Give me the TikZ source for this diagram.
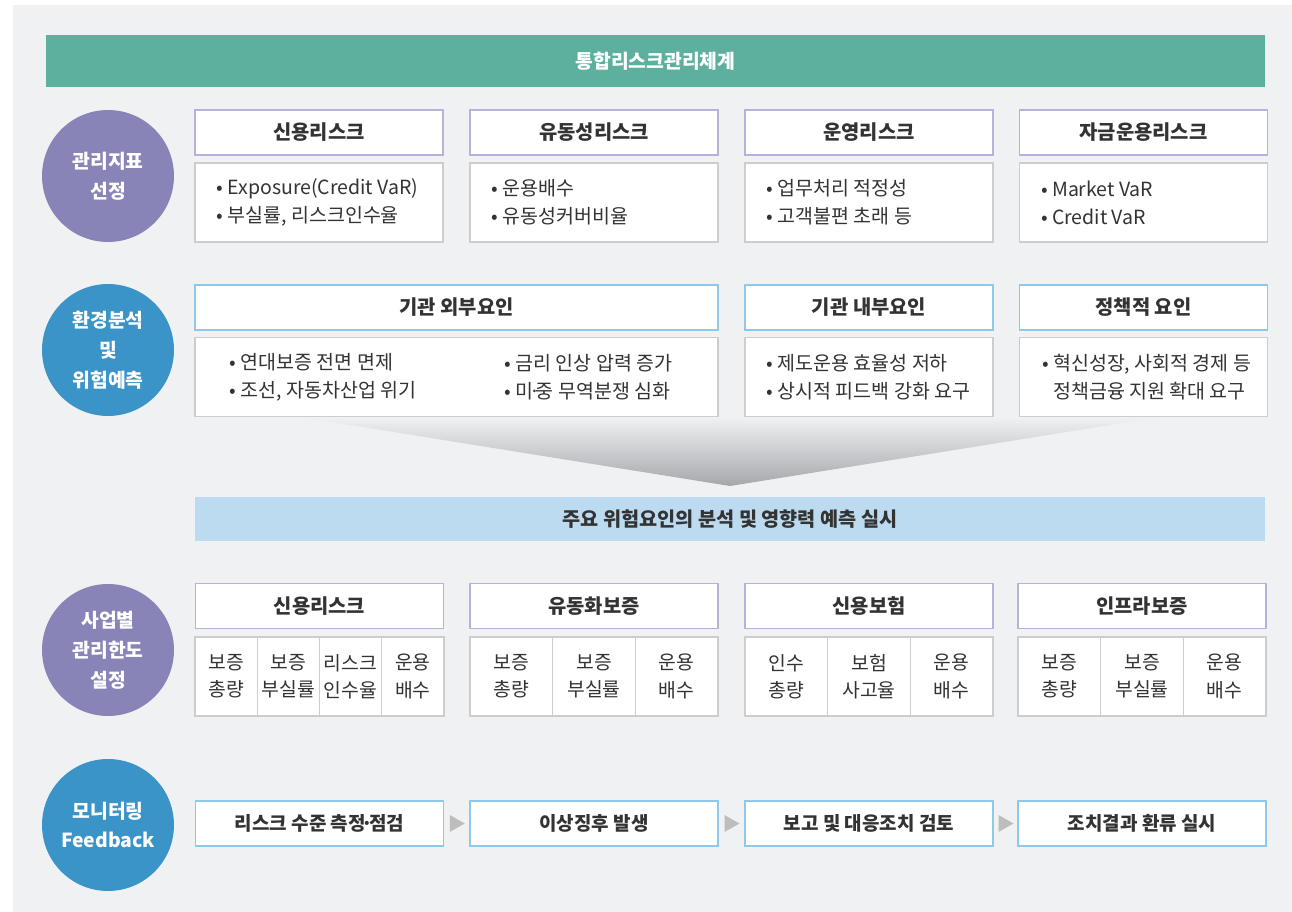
\documentclass[tikz,border=0pt]{standalone}
\usepackage{fontspec}
\setmainfont{Noto Sans CJK KR}
\usetikzlibrary{positioning,calc}

\definecolor{bggray}{HTML}{F0F1F3}
\definecolor{titlegreen}{HTML}{5EB09E}
\definecolor{circpurple}{HTML}{8884B7}
\definecolor{circblue}{HTML}{3B94C7}
\definecolor{lineviolet}{HTML}{B5B3D9}
\definecolor{lineblue}{HTML}{8EC9EC}
\definecolor{linegray}{HTML}{CDCDCD}
\definecolor{bandblue}{HTML}{BCDBF1}
\definecolor{txtgray}{HTML}{333333}
\definecolor{tipgray}{HTML}{BDBDBD}
\definecolor{funnelgray}{HTML}{A6A7AB}

\newcommand{\middot}{\kern-0.22em·\kern-0.22em}

\begin{document}
\begin{tikzpicture}[x=0.02cm, y=-0.02cm,
    every node/.style={text=txtgray},
    circ/.style={circle, minimum size=2.64cm, inner sep=0pt, align=center, text=white,
        font=\fontsize{11}{17}\selectfont\bfseries},
    hdr/.style={draw=lineviolet, line width=0.8pt, fill=white, minimum width=4.96cm,
        minimum height=0.9cm, inner sep=0pt, font=\fontsize{11.3}{13}\selectfont\bfseries},
    hdrb/.style={hdr, draw=lineblue},
    bodybox/.style={draw=linegray, line width=0.8pt, fill=white, minimum width=4.96cm,
        minimum height=1.58cm, inner sep=0pt},
    btext/.style={align=left, inner sep=0pt, font=\fontsize{11.1}{16}\selectfont},
    cell/.style={draw=linegray, line width=0.8pt, fill=white, minimum height=1.58cm,
        inner sep=0pt, align=center, font=\fontsize{11}{15.5}\selectfont},
    flowbox/.style={hdrb, font=\fontsize{10.8}{13}\selectfont\bfseries}]

    % 1. 배경
    \useasboundingbox (0,0) rectangle (1292,912);
    \fill[white] (0,0) rectangle (1292,912);
    \fill[bggray] (13,5) rectangle (1292,912);

    % 2. 제목 띠
    \node[fill=titlegreen, minimum width=24.38cm, minimum height=1.04cm, inner sep=0pt,
        text=white, font=\fontsize{11}{12}\selectfont\bfseries] (title) at (655.5,61) {통합리스크관리체계};

    % 3. 관리지표 선정
    \node[circ, fill=circpurple] (c1) at (108,176) {관리지표\\선정};
    \node[hdr] (h1) at (319,132.5) {신용리스크};
    \node[hdr] (h2) at (594,132.5) {유동성리스크};
    \node[hdr] (h3) at (869,132.5) {운영리스크};
    \node[hdr] (h4) at (1143.5,132.5) {자금운용리스크};
    \foreach \n/\x in {1/319, 2/594, 3/869, 4/1143.5}
        \node[bodybox] (b\n) at (\x,202.5) {};
    \node[btext, right=0.44cm of b1.west] (t1) {• Exposure(Credit VaR)\\• 부실률, 리스크인수율};
    \node[btext, right=0.44cm of b2.west] (t2) {• 운용배수\\• 유동성커버비율};
    \node[btext, right=0.44cm of b3.west] (t3) {• 업무처리 적정성\\• 고객불편 초래 등};
    \node[btext, right=0.44cm of b4.west] (t4) {• Market VaR\\• Credit VaR};

    % 4. 환경분석 및 위험예측
    \shade[top color=bggray, bottom color=funnelgray] (300,417) -- (1160,417) -- (730,486) -- cycle;
    \node[circ, fill=circblue] (c2) at (108,350) {환경분석\\및\\위험예측};
    \node[hdrb, minimum width=10.46cm] (e1) at (456.5,307.5) {기관 외부요인};
    \node[hdrb] (e2) at (869,307.5) {기관 내부요인};
    \node[hdrb] (e3) at (1143.5,307.5) {정책적 요인};
    \node[bodybox, minimum width=10.46cm] (f1) at (456.5,377) {};
    \node[bodybox] (f2) at (869,377) {};
    \node[bodybox] (f3) at (1143.5,377) {};
    \node[btext, right=0.7cm of f1.west] (s1) {• 연대보증 전면 면제\\• 조선, 자동차산업 위기};
    \node[btext, right=6.2cm of f1.west] (s2) {• 금리 인상 압력 증가\\• 미\middot 중 무역분쟁 심화};
    \node[btext, right=0.44cm of f2.west] (s3) {• 제도운용 효율성 저하\\• 상시적 피드백 강화 요구};
    \node[btext, right=0.46cm of f3.west] (s4) {• 혁신성장, 사회적 경제 등\\\phantom{• }정책금융 지원 확대 요구};
    \node[fill=bandblue, minimum width=21.4cm, minimum height=0.88cm, inner sep=0pt,
        font=\fontsize{11.2}{12}\selectfont\bfseries] (band) at (730,519) {주요 위험요인의 분석 및 영향력 예측 실시};

    % 5. 사업별 관리한도 설정
    \node[circ, fill=circpurple] (c3) at (108,650) {사업별\\관리한도\\설정};
    \node[hdr] (g1) at (319.5,606) {신용리스크};
    \node[hdr] (g2) at (594,606) {유동화보증};
    \node[hdr] (g3) at (869,606) {신용보험};
    \node[hdr] (g4) at (1142,606) {인프라보증};
    \foreach \i/\t in {1/{보증\\총량}, 2/{보증\\부실률}, 3/{리스크\\인수율}, 4/{운용\\배수}}
        \node[cell, minimum width=1.245cm] (pa\i) at ({195+62.25*(\i-0.5)},676.5) {\t};
    \foreach \i/\t in {1/{보증\\총량}, 2/{보증\\부실률}, 3/{운용\\배수}}
        \node[cell, minimum width=1.653cm] (pb\i) at ({470+82.67*(\i-0.5)},676.5) {\t};
    \foreach \i/\t in {1/{인수\\총량}, 2/{보험\\사고율}, 3/{운용\\배수}}
        \node[cell, minimum width=1.653cm] (pc\i) at ({745+82.67*(\i-0.5)},676.5) {\t};
    \foreach \i/\t in {1/{보증\\총량}, 2/{보증\\부실률}, 3/{운용\\배수}}
        \node[cell, minimum width=1.653cm] (pd\i) at ({1018+82.67*(\i-0.5)},676.5) {\t};

    % 6. 모니터링 Feedback
    \node[circ, fill=circblue] (c4) at (108,825) {모니터링\\Feedback};
    \node[flowbox] (m1) at (319.5,823.5) {리스크 수준 측정\middot 점검};
    \node[flowbox] (m2) at (594,823.5) {이상징후 발생};
    \node[flowbox] (m3) at (869,823.5) {보고 및 대응조치 검토};
    \node[flowbox] (m4) at (1142,823.5) {조치결과 환류 실시};
    \foreach \a/\b in {m1/m2, m2/m3, m3/m4}
        \fill[tipgray] ($(\a.east)!0.5!(\b.west)$) ++(-7,-8.5) -- ++(15,8.5) -- ++(-15,8.5) -- cycle;
\end{tikzpicture}
\end{document}
